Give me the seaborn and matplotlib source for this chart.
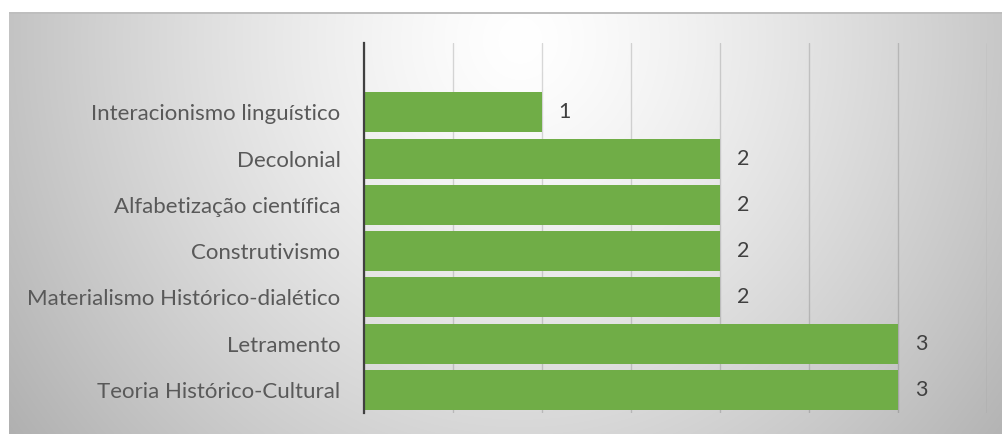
import numpy as np
import matplotlib
matplotlib.use("Agg")
import matplotlib.pyplot as plt
import seaborn as sns

# Theoretical frameworks and how many works adopt each one
categories = [
    "Interacionismo linguístico",
    "Decolonial",
    "Alfabetização científica",
    "Construtivismo",
    "Materialismo Histórico-dialético",
    "Letramento",
    "Teoria Histórico-Cultural",
]
counts = [1, 2, 2, 2, 2, 3, 3]
x_ticks = [0, 0.5, 1, 1.5, 2, 2.5, 3, 3.5]

sns.set_style("white")
plt.rcParams["font.family"] = ["Lato", "DejaVu Sans"]

W, H = 1003, 434
fig = plt.figure(figsize=(W / 100, H / 100), dpi=100)

# Soft radial grey backdrop behind the chart
bg = fig.add_axes([0, 0, 1, 1], zorder=-10)
yy, xx = np.mgrid[0:H, 0:W]
d = np.sqrt(((xx - 520) / 500.0) ** 2 + ((yy - 40) / 525.0) ** 2)
grey = 255 - 58 * np.clip(d, 0, 1.4) ** 1.3
grey[12:14, 9:] = 190
grey[:12, :] = 255
grey[:, :9] = 255
img = np.dstack([grey, grey, grey]) / 255.0
bg.imshow(img, extent=(0, W, H, 0), aspect="auto", interpolation="bilinear")
bg.set_xlim(0, W)
bg.set_ylim(H, 0)
bg.axis("off")

ax = fig.add_axes([364 / W, 21 / H, 623 / W, 370 / H])
ax.patch.set_alpha(0)

sns.barplot(x=counts, y=categories, orient="h", color="#70AD47",
            saturation=1, width=0.865, linewidth=0, ax=ax)

for cont in ax.containers:
    ax.bar_label(cont, labels=[f"{v:g}" for v in counts], padding=12,
                 fontsize=15.5, color="#404040")

ax.set_xlim(0, 3.5)
ax.set_ylim(6.5, -1.5)
ax.set_xticks(x_ticks)
ax.set_xticklabels([])
ax.set_xlabel("")
ax.set_ylabel("")
ax.grid(axis="x", color="black", alpha=0.15, linewidth=1.0)
ax.grid(axis="y", visible=False)
ax.set_axisbelow(True)
ax.tick_params(axis="both", length=0)
ax.tick_params(axis="y", pad=17, labelsize=16, labelcolor="#595959")
for side in ["top", "right", "bottom"]:
    ax.spines[side].set_visible(False)
ax.spines["left"].set_color("#404040")
ax.spines["left"].set_linewidth(1.6)

fig.savefig("out.png", dpi=100)
